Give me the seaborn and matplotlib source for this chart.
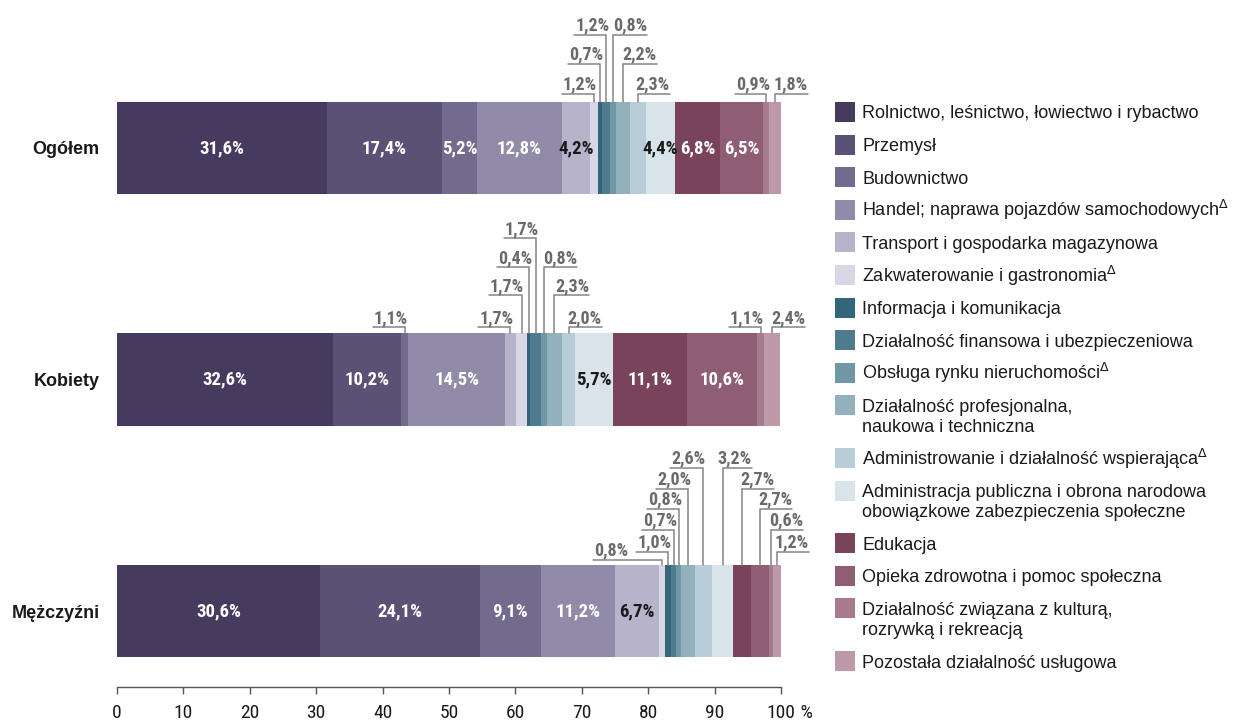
"""
Pracujący według sekcji PKD - struktura (Ogółem / Kobiety / Mężczyźni)
"""

import matplotlib
matplotlib.use('Agg')
import matplotlib.pyplot as plt
from matplotlib import font_manager
from matplotlib.patches import Rectangle
import pandas as pd
import seaborn as sns

# Data
groups = ['Ogółem', 'Kobiety', 'Mężczyźni']
sectors = [
    'Rolnictwo, leśnictwo, łowiectwo i rybactwo',
    'Przemysł',
    'Budownictwo',
    'Handel; naprawa pojazdów samochodowych$^{\\Delta}$',
    'Transport i gospodarka magazynowa',
    'Zakwaterowanie i gastronomia$^{\\Delta}$',
    'Informacja i komunikacja',
    'Działalność finansowa i ubezpieczeniowa',
    'Obsługa rynku nieruchomości$^{\\Delta}$',
    'Działalność profesjonalna,\nnaukowa i techniczna',
    'Administrowanie i działalność wspierająca$^{\\Delta}$',
    'Administracja publiczna i obrona narodowa\nobowiązkowe zabezpieczenia społeczne',
    'Edukacja',
    'Opieka zdrowotna i pomoc społeczna',
    'Działalność związana z kulturą,\nrozrywką i rekreacją',
    'Pozostała działalność usługowa',
]
ogolem = [31.6, 17.4, 5.2, 12.8, 4.2, 1.2, 0.7, 1.2, 0.8, 2.2, 2.3, 4.4, 6.8, 6.5, 0.9, 1.8]
kobiety = [32.6, 10.2, 1.1, 14.5, 1.7, 1.7, 0.4, 1.7, 0.8, 2.3, 2.0, 5.7, 11.1, 10.6, 1.1, 2.4]
mezczyzni = [30.6, 24.1, 9.1, 11.2, 6.7, 0.8, 1.0, 0.7, 0.8, 2.0, 2.6, 3.2, 2.7, 2.7, 0.6, 1.2]
x_ticks = [0, 10, 20, 30, 40, 50, 60, 70, 80, 90, 100]

colors = ['#463b5e', '#5a5175', '#736b8d', '#918ba9', '#b7b3ca', '#d9d7e5',
          '#33667a', '#4f7b8e', '#7097a6', '#93b0bd', '#b8cdd7', '#d8e4ea',
          '#79445b', '#8f5e74', '#a67b8e', '#be99aa']
dark_label = {4, 11}   # light segments get dark labels

# callouts: (segment, level, side, line length px)
callouts = [
    [(5, 0, 'L', 32), (6, 1, 'L', 32), (7, 2, 'L', 32), (8, 2, 'R', 34),
     (9, 1, 'R', 34), (10, 0, 'R', 32), (14, 0, 'L', 31), (15, 0, 'R', 33)],
    [(2, 0, 'L', 32), (4, 0, 'L', 32), (5, 1, 'L', 33), (6, 2, 'L', 32),
     (7, 3, 'L', 32), (8, 2, 'R', 33), (9, 1, 'R', 35), (10, 0, 'R', 33),
     (14, 0, 'L', 32), (15, 0, 'R', 33)],
    [(5, 0, 'L', 69), (6, 1, 'L', 32), (7, 2, 'L', 32), (8, 3, 'L', 32),
     (9, 4, 'L', 32), (10, 5, 'L', 33), (11, 5, 'R', 29), (12, 4, 'R', 32),
     (13, 3, 'R', 32), (14, 2, 'R', 32), (15, 1, 'R', 32)],
]
levels = [[8, 38, 67], [6, 38, 66, 95], [5, 13, 35, 56, 76, 97]]

# Style
sns.set_theme(style='white')
plt.rcParams['font.family'] = ['Liberation Sans', 'DejaVu Sans']

# pick a narrow font for the numbers if one is installed
entries = font_manager.fontManager.ttflist
names = {f.name for f in entries}
narrow = None
for cand in ['Liberation Sans Narrow', 'Arial Narrow', 'Roboto Condensed',
             'DejaVu Sans Condensed', 'Open Sans Condensed', 'Noto Sans Condensed']:
    if cand in names:
        narrow = dict(family=cand)
        break
if narrow is None:
    for fam in ['Roboto', 'Noto Sans', 'Open Sans', 'DejaVu Sans']:
        if any(f.name == fam and str(f.stretch) in ('condensed', 'semi-condensed', '75', '87')
               for f in entries):
            narrow = dict(family=fam, fontstretch='condensed')
            break
if narrow is None:
    narrow = dict(family='Liberation Sans')
    NSIZE = 11
else:
    NSIZE = 13.5

W, H = 1245, 724
fig = plt.figure(figsize=(W / 100, H / 100), dpi=100)
ax = fig.add_axes([117 / W, 1 - 687 / H, 664 / W, 687 / H])

BAR_H = 0.40
Y_TOP, Y_BOT = -0.639, 2.328
XPX = 100 / 664
YPX = (Y_BOT - Y_TOP) / 687

# long table with cumulative ends
rows = []
for g, vals in zip(groups, [ogolem, kobiety, mezczyzni]):
    end = 0
    for k, v in enumerate(vals):
        end += v
        rows.append({'grupa': g, 'k': k, 'udzial': v, 'koniec': end})
df = pd.DataFrame(rows)

# stacked bars: draw cumulative ends back to front
for k in reversed(range(len(sectors))):
    sns.barplot(data=df[df['k'] == k], x='koniec', y='grupa', order=groups,
                orient='h', color=colors[k], saturation=1, width=BAR_H,
                errorbar=None, linewidth=0, ax=ax)

ax.set_xlim(0, 100)
ax.set_ylim(Y_BOT, Y_TOP)
ax.set_xlabel('')
ax.set_ylabel('')

# labels inside bars
for i, g in enumerate(groups):
    sub = df[df['grupa'] == g]
    for _, r in sub.iterrows():
        if r['udzial'] >= 4:
            txt = f"{r['udzial']:.1f}".replace('.', ',') + '%'
            ax.text(r['koniec'] - r['udzial'] / 2, i, txt, ha='center', va='center',
                    fontsize=NSIZE, fontweight='bold', **narrow,
                    color='#1a1a1a' if r['k'] in dark_label else 'white')

# callouts for small segments
for i, g in enumerate(groups):
    sub = df[df['grupa'] == g].set_index('k')
    top = i - BAR_H / 2
    for k, lev, side, length in callouts[i]:
        v = sub.loc[k, 'udzial']
        xc = sub.loc[k, 'koniec'] - v / 2
        yl = top - levels[i][lev] * YPX
        xe = xc - length * XPX if side == 'L' else xc + length * XPX
        ax.plot([xe, xc, xc], [yl, yl, top], color='#858585', lw=1.1,
                solid_joinstyle='miter', clip_on=False)
        txt = f"{v:.1f}".replace('.', ',') + '%'
        ax.text(xe + (1 * XPX if side == 'L' else 0), yl - 4 * YPX, txt,
                ha='left' if side == 'L' else 'right', va='baseline',
                fontsize=NSIZE - 0.5, fontweight='bold', **narrow, color='#6a6a6a',
                clip_on=False)

# axes
sns.despine(ax=ax, left=True)
ax.spines['bottom'].set_color('#555555')
ax.spines['bottom'].set_linewidth(1.0)
ax.set_xticks(x_ticks)
ax.set_xticklabels([str(t) for t in x_ticks], fontsize=NSIZE + 0.5, color='#1a1a1a', **narrow)
ax.tick_params(axis='x', bottom=True, length=5, width=1, color='#555555', pad=7)
ax.annotate(' %', xy=(100, 0), xycoords=('data', 'axes fraction'),
            xytext=(10.5, -12), textcoords='offset points', ha='left', va='top',
            fontsize=NSIZE + 0.5, color='#1a1a1a', **narrow)
ax.tick_params(axis='y', length=0, pad=12.5)
for lab in ax.get_yticklabels():
    lab.set_fontweight('bold')
    lab.set_fontsize(13)
    lab.set_color('#1a1a1a')

# legend
top = 102
for name, c in zip(sectors, colors):
    fig.add_artist(Rectangle((835 / W, 1 - (top + 20) / H), 20 / W, 20 / H,
                             transform=fig.transFigure, facecolor=c, edgecolor='none'))
    lines = name.split('\n')
    for j, line in enumerate(lines):
        fig.text(862 / W, 1 - (top + 16.5 + 20 * j) / H, line, va='baseline', ha='left',
                 fontsize=13, color='#1a1a1a')
    top += 32.6 + 20 * (len(lines) - 1)

plt.savefig('out.png', dpi=100)
print("Saved out.png")
